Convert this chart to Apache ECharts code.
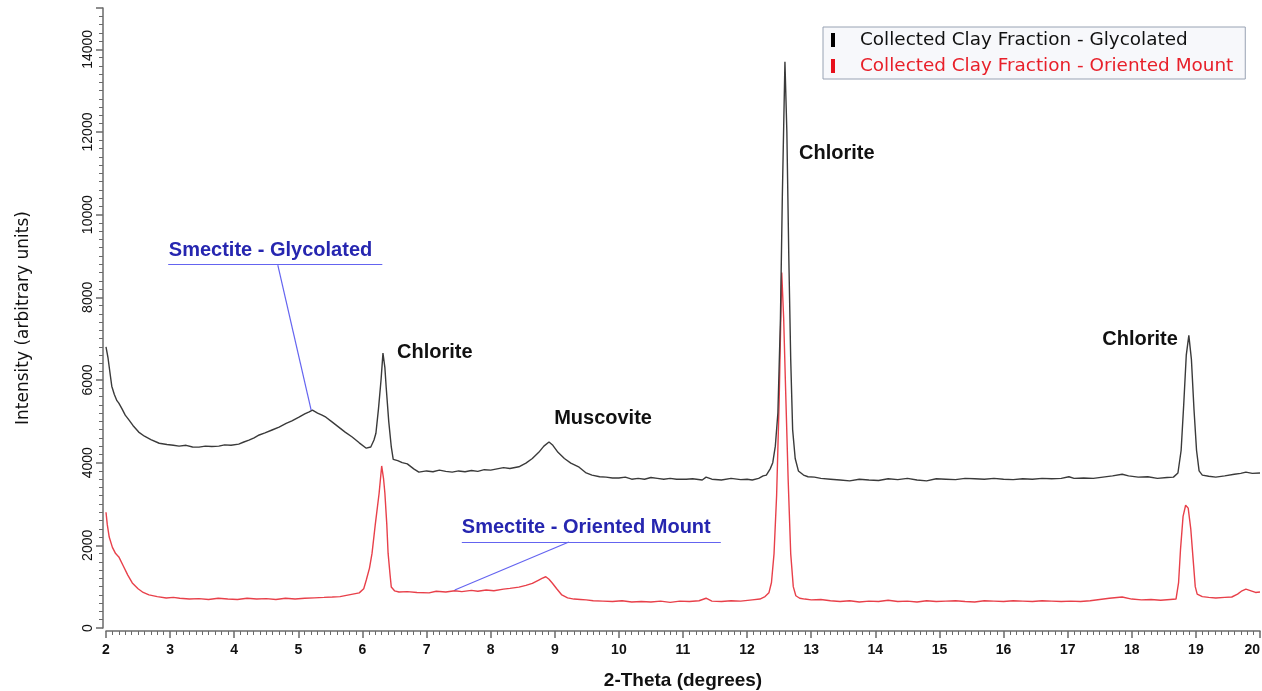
<!DOCTYPE html>
<html>
<head>
<meta charset="utf-8">
<script src="https://cdn.jsdelivr.net/npm/echarts@6/dist/echarts.min.js"></script>
<style>
html,body{margin:0;padding:0;background:#fff;}
#chart{width:1262px;height:691px;}
</style>
</head>
<body>
<div id="chart"></div>
<script>
// ---- Data ----
var seriesNames = ['Collected Clay Fraction - Glycolated', 'Collected Clay Fraction - Oriented Mount'];
var yTickLabels = ['0','2000','4000','6000','8000','10000','12000','14000'];

var glycolatedTheta = [2.00,2.03,2.06,2.09,2.13,2.17,2.20,2.25,2.30,2.36,2.42,2.51,2.60,2.70,2.83,2.95,3.05,3.14,3.25,3.35,3.45,3.55,3.65,3.76,3.85,3.95,4.07,4.15,4.23,4.31,4.39,4.48,4.59,4.70,4.81,4.90,5.01,5.10,5.17,5.22,5.30,5.37,5.43,5.53,5.63,5.73,5.84,5.95,6.06,6.13,6.18,6.21,6.25,6.29,6.32,6.35,6.37,6.41,6.45,6.48,6.55,6.62,6.70,6.80,6.88,7.00,7.10,7.20,7.30,7.40,7.50,7.60,7.70,7.80,7.90,8.00,8.10,8.20,8.30,8.44,8.55,8.65,8.75,8.83,8.91,8.97,9.05,9.15,9.25,9.38,9.48,9.58,9.70,9.80,9.90,10.00,10.10,10.20,10.30,10.40,10.50,10.60,10.70,10.80,10.90,11.05,11.15,11.30,11.36,11.45,11.60,11.75,11.90,12.00,12.08,12.18,12.25,12.30,12.36,12.40,12.44,12.48,12.52,12.55,12.59,12.62,12.65,12.68,12.71,12.75,12.80,12.88,12.95,13.05,13.15,13.30,13.45,13.60,13.75,13.90,14.05,14.20,14.35,14.50,14.65,14.80,14.95,15.10,15.25,15.40,15.55,15.70,15.85,16.00,16.15,16.30,16.45,16.60,16.75,16.90,17.02,17.10,17.25,17.40,17.55,17.70,17.85,17.95,18.10,18.25,18.40,18.55,18.65,18.72,18.77,18.81,18.85,18.89,18.93,18.97,19.01,19.05,19.10,19.20,19.31,19.45,19.60,19.70,19.78,19.88,20.00];
var glycolatedIntensity = [6800,6550,6200,5850,5650,5500,5440,5300,5150,5030,4900,4740,4640,4560,4470,4440,4420,4400,4420,4380,4375,4400,4390,4400,4430,4420,4450,4500,4545,4600,4670,4720,4790,4860,4950,5010,5100,5180,5230,5270,5200,5150,5100,4980,4860,4740,4620,4480,4350,4380,4550,4710,5300,6000,6650,6300,5830,5000,4380,4080,4050,4000,3970,3850,3770,3800,3780,3820,3790,3770,3800,3780,3810,3790,3830,3820,3850,3880,3860,3900,3990,4100,4250,4400,4500,4420,4250,4100,3990,3890,3760,3700,3660,3650,3630,3630,3650,3600,3620,3600,3640,3620,3600,3620,3600,3600,3610,3580,3650,3600,3580,3620,3590,3600,3580,3620,3680,3700,3850,4000,4400,5200,7500,10500,13700,12000,9000,6500,4800,4100,3800,3700,3660,3650,3620,3600,3580,3560,3600,3580,3570,3610,3590,3620,3580,3560,3610,3600,3590,3620,3610,3600,3620,3600,3590,3610,3600,3620,3610,3620,3660,3620,3630,3620,3650,3680,3720,3680,3650,3660,3620,3640,3650,3750,4300,5400,6600,7080,6500,5300,4300,3800,3700,3670,3650,3680,3720,3740,3770,3740,3750];

var orientedTheta = [2.00,2.02,2.05,2.10,2.15,2.20,2.27,2.34,2.41,2.50,2.58,2.67,2.80,2.94,3.05,3.15,3.30,3.45,3.60,3.75,3.90,4.05,4.20,4.35,4.50,4.65,4.80,4.95,5.10,5.25,5.40,5.53,5.65,5.75,5.85,5.95,6.02,6.06,6.11,6.15,6.20,6.26,6.30,6.33,6.35,6.38,6.40,6.43,6.45,6.50,6.57,6.70,6.85,7.04,7.15,7.30,7.44,7.55,7.70,7.80,7.93,8.05,8.20,8.30,8.44,8.55,8.65,8.75,8.80,8.86,8.91,8.96,9.03,9.11,9.20,9.30,9.40,9.49,9.60,9.75,9.90,10.05,10.20,10.35,10.50,10.65,10.80,10.95,11.10,11.25,11.36,11.45,11.60,11.75,11.90,12.08,12.20,12.28,12.34,12.38,12.42,12.46,12.50,12.54,12.57,12.60,12.64,12.68,12.72,12.76,12.82,12.90,13.00,13.15,13.30,13.45,13.60,13.75,13.90,14.05,14.20,14.35,14.50,14.65,14.80,14.95,15.10,15.25,15.40,15.55,15.70,15.85,16.00,16.15,16.30,16.45,16.60,16.75,16.90,17.05,17.20,17.35,17.50,17.65,17.85,18.00,18.15,18.30,18.45,18.60,18.69,18.73,18.76,18.80,18.84,18.88,18.92,18.96,18.99,19.02,19.10,19.20,19.31,19.45,19.56,19.65,19.72,19.78,19.86,19.93,20.00];
var orientedIntensity = [2800,2500,2200,1950,1800,1720,1500,1280,1090,950,860,800,760,725,740,720,700,710,690,720,700,690,720,700,710,690,720,700,720,730,740,750,760,790,820,850,950,1160,1450,1810,2500,3260,3920,3600,3260,2500,1810,1300,990,900,870,880,860,850,890,870,900,880,910,890,920,900,940,960,990,1030,1080,1160,1200,1240,1180,1090,950,800,730,700,690,680,660,650,640,660,630,640,630,650,620,650,640,660,720,650,640,660,650,680,700,760,850,1100,1800,3200,5500,8600,7500,5800,3600,1800,1000,780,720,700,680,690,660,640,660,630,650,640,670,640,650,630,660,640,650,660,640,630,660,650,640,660,650,640,660,650,640,650,640,660,690,720,750,700,680,690,670,690,700,1100,1900,2700,2970,2900,2400,1600,1000,820,760,740,725,740,750,820,900,940,900,860,870];

// ---- Build series data ----
function pairs(xs, ys) { return xs.map(function (x, i) { return [x, ys[i]]; }); }

var chart = echarts.init(document.getElementById('chart'), null, {renderer: 'canvas'});

var axisGray = '#6a6a6a';
var annoFont = 'Liberation Sans';
var legendFont = 'DejaVu Sans';
var blueText = '#2626b0';
var blueLine = '#6464f0';

function note(name, x, y, color) {
  return {
    name: name, coord: [x, y],
    label: {show: true, position: 'inside', align: 'left', verticalAlign: 'middle',
      formatter: '{b}', color: color, fontFamily: annoFont, fontSize: 20, fontWeight: 'bold'}
  };
}
function seg(x1, y1, x2, y2, color) {
  return [{coord: [x1, y1], lineStyle: {color: color, width: 1.2, type: 'solid'}}, {coord: [x2, y2]}];
}

var option = {
  animation: false,
  backgroundColor: '#ffffff',
  grid: {left: 106, right: 2, top: 8, bottom: 63, containLabel: false, outerBoundsMode: 'none'},
  legend: {
    orient: 'vertical', left: 823, top: 27,
    padding: [4, 12, 4, 8], itemGap: 8,
    itemWidth: 4, itemHeight: 14, icon: 'rect',
    backgroundColor: '#f7f8fb', borderColor: '#98a2b3', borderWidth: 1,
    textStyle: {fontFamily: legendFont, fontSize: 18.4, padding: [0, 0, 0, 20]},
    data: [
      {name: seriesNames[0], itemStyle: {color: '#000000'}, textStyle: {color: '#111111'}},
      {name: seriesNames[1], itemStyle: {color: '#e8101c'}, textStyle: {color: '#e8202a'}}
    ]
  },
  xAxis: {
    type: 'value', min: 2, max: 20, interval: 1, offset: 3,
    name: '2-Theta (degrees)', nameLocation: 'middle', nameGap: 40, nameMoveOverlap: false,
    nameTextStyle: {fontFamily: 'Liberation Sans', fontSize: 19, fontWeight: 'bold', color: '#111'},
    axisLine: {show: true, onZero: false, lineStyle: {color: axisGray, width: 1.5}},
    axisTick: {show: true, inside: false, length: 7, lineStyle: {color: axisGray, width: 1.5}},
    minorTick: {show: true, splitNumber: 10, length: 4, lineStyle: {color: axisGray, width: 1}},
    axisLabel: {fontFamily: 'Liberation Sans', fontSize: 14, fontWeight: 'bold', color: '#111', margin: 12,
      alignMaxLabel: 'right'},
    splitLine: {show: false}, minorSplitLine: {show: false}
  },
  yAxis: {
    type: 'value', min: 0, max: 15000, interval: 2000, offset: 3,
    name: 'Intensity (arbitrary units)', nameLocation: 'middle', nameGap: 71, nameMoveOverlap: false,
    nameTextStyle: {fontFamily: legendFont, fontSize: 17, color: '#111'},
    axisLine: {show: true, onZero: false, lineStyle: {color: axisGray, width: 1.5}},
    axisTick: {show: true, inside: false, length: 7, lineStyle: {color: axisGray, width: 1.5}},
    minorTick: {show: true, splitNumber: 10, length: 4, lineStyle: {color: axisGray, width: 1}},
    axisLabel: {
      rotate: 90, margin: 8, showMaxLabel: false,
      fontFamily: 'Liberation Sans', fontSize: 14, color: '#111',
      formatter: function (v) { var s = String(v); return yTickLabels.indexOf(s) >= 0 ? s : ''; }
    },
    splitLine: {show: false}, minorSplitLine: {show: false}
  },
  series: [
    {
      name: seriesNames[0], type: 'line', showSymbol: false, symbol: 'none',
      data: pairs(glycolatedTheta, glycolatedIntensity),
      lineStyle: {color: '#3a3a3a', width: 1.4}, itemStyle: {color: '#3a3a3a'},
      z: 3,
      markPoint: {
        silent: true, symbol: 'rect', symbolSize: 1,
        itemStyle: {color: 'rgba(0,0,0,0)'},
        data: [
          note('Chlorite', 6.54, 6673, '#111'),
          note('Muscovite', 8.99, 5077, '#111'),
          note('Chlorite', 12.81, 11485, '#111'),
          note('Chlorite', 17.54, 6988, '#111'),
          note('Smectite - Glycolated', 2.98, 9139, blueText),
          note('Smectite - Oriented Mount', 7.55, 2442, blueText)
        ]
      },
      markLine: {
        silent: true, symbol: ['none', 'none'], label: {show: false},
        emphasis: {disabled: true},
        data: [
          seg(2.97, 8801, 6.31, 8801, blueLine),
          seg(4.68, 8777, 5.20, 5271, blueLine),
          seg(7.55, 2079, 11.59, 2079, blueLine),
          seg(9.22, 2079, 7.44, 919, blueLine)
        ]
      }
    },
    {
      name: seriesNames[1], type: 'line', showSymbol: false, symbol: 'none',
      data: pairs(orientedTheta, orientedIntensity),
      lineStyle: {color: '#e8404a', width: 1.4}, itemStyle: {color: '#e8404a'},
      z: 2
    }
  ]
};
chart.setOption(option);
</script>
</body>
</html>
